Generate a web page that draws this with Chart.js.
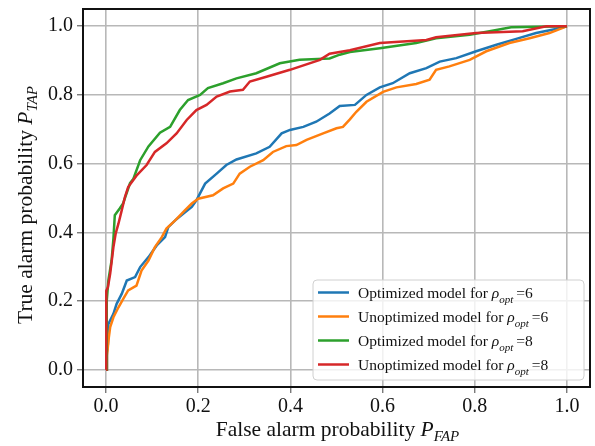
<!DOCTYPE html>
<html>
<head>
<meta charset="utf-8">
<script src="https://cdn.jsdelivr.net/npm/chart.js@4.4.1/dist/chart.umd.min.js"></script>
<style>
  body { margin: 0; background: #fff; }
  #rocChart { display: block; }
</style>
</head>
<body>
<canvas id="rocChart" width="595" height="446"></canvas>
<script>
// ROC curves (false alarm prob. vs true alarm prob.)
const optFap6 = [0, 0.002, 0.004, 0.005, 0.016, 0.023, 0.034, 0.045, 0.063, 0.074, 0.092, 0.110, 0.128, 0.135, 0.150, 0.168, 0.186, 0.196, 0.215, 0.240, 0.261, 0.283, 0.326, 0.355, 0.381, 0.399, 0.428, 0.456, 0.485, 0.507, 0.540, 0.565, 0.594, 0.622, 0.659, 0.695, 0.724, 0.760, 0.803, 0.847, 0.890, 0.933, 0.976, 1.0];
const optTap6 = [0, 0.050, 0.075, 0.133, 0.163, 0.192, 0.221, 0.260, 0.270, 0.299, 0.328, 0.362, 0.386, 0.415, 0.435, 0.455, 0.474, 0.493, 0.542, 0.571, 0.596, 0.612, 0.630, 0.649, 0.688, 0.698, 0.707, 0.722, 0.746, 0.768, 0.771, 0.800, 0.822, 0.834, 0.863, 0.878, 0.897, 0.907, 0.927, 0.946, 0.963, 0.980, 0.992, 1.0];

const unoptFap6 = [0, 0.002, 0.006, 0.009, 0.016, 0.027, 0.037, 0.048, 0.066, 0.077, 0.092, 0.106, 0.121, 0.131, 0.150, 0.171, 0.186, 0.200, 0.232, 0.254, 0.276, 0.290, 0.312, 0.341, 0.362, 0.391, 0.413, 0.435, 0.471, 0.500, 0.514, 0.529, 0.543, 0.565, 0.601, 0.630, 0.673, 0.702, 0.716, 0.745, 0.789, 0.825, 0.875, 0.919, 0.962, 0.991, 1.0];
const unoptTap6 = [0, 0.041, 0.094, 0.124, 0.153, 0.182, 0.206, 0.231, 0.245, 0.289, 0.318, 0.357, 0.386, 0.411, 0.435, 0.464, 0.484, 0.498, 0.508, 0.528, 0.542, 0.571, 0.591, 0.610, 0.634, 0.651, 0.654, 0.669, 0.688, 0.703, 0.707, 0.729, 0.751, 0.780, 0.809, 0.822, 0.832, 0.844, 0.873, 0.883, 0.902, 0.927, 0.951, 0.965, 0.980, 0.995, 1.0];

const optFap8 = [0, 0.001, 0.002, 0.005, 0.012, 0.016, 0.019, 0.030, 0.037, 0.052, 0.059, 0.074, 0.092, 0.117, 0.139, 0.160, 0.178, 0.204, 0.221, 0.254, 0.283, 0.326, 0.377, 0.420, 0.485, 0.507, 0.529, 0.594, 0.673, 0.716, 0.789, 0.832, 0.879, 1.0];
const optTap8 = [0, 0.163, 0.200, 0.260, 0.318, 0.382, 0.450, 0.470, 0.484, 0.543, 0.555, 0.610, 0.650, 0.690, 0.707, 0.756, 0.785, 0.800, 0.820, 0.834, 0.848, 0.863, 0.892, 0.902, 0.906, 0.917, 0.925, 0.936, 0.951, 0.965, 0.975, 0.985, 0.997, 1.0];

const unoptFap8 = [0, 0.0, 0.001, 0.004, 0.009, 0.016, 0.021, 0.027, 0.034, 0.041, 0.048, 0.066, 0.088, 0.106, 0.131, 0.153, 0.175, 0.196, 0.218, 0.240, 0.269, 0.297, 0.312, 0.348, 0.399, 0.464, 0.485, 0.529, 0.594, 0.695, 0.716, 0.803, 0.904, 0.955, 1.0];
const unoptTap8 = [0, 0.163, 0.230, 0.240, 0.280, 0.357, 0.397, 0.426, 0.464, 0.503, 0.532, 0.565, 0.596, 0.634, 0.659, 0.688, 0.727, 0.756, 0.771, 0.795, 0.810, 0.815, 0.839, 0.853, 0.873, 0.902, 0.920, 0.930, 0.951, 0.960, 0.968, 0.980, 0.985, 1.0, 1.0];

const tickValues = [0, 0.2, 0.4, 0.6, 0.8, 1.0];
const tickLabels = ['0.0', '0.2', '0.4', '0.6', '0.8', '1.0'];

const legendNames = ['Optimized model for', 'Unoptimized model for', 'Optimized model for', 'Unoptimized model for'];
const legendRho = ['6', '6', '8', '8'];
const colors = ['#1f77b4', '#ff7f0e', '#2ca02c', '#d62728'];

const SERIF = '"Liberation Serif", "DejaVu Serif", serif';

function toPoints(xs, ys) {
    return xs.map((x, i) => ({ x: x, y: ys[i] }));
}

// text pieces, some italic / subscript
function richWidth(ctx, parts) {
    let w = 0;
    parts.forEach(p => {
        ctx.font = (p.italic ? 'italic ' : '') + p.size + 'px ' + SERIF;
        w += ctx.measureText(p.text).width + (p.gap || 0);
    });
    return w;
}

function drawRich(ctx, parts, x, y) {
    parts.forEach(p => {
        ctx.font = (p.italic ? 'italic ' : '') + p.size + 'px ' + SERIF;
        x += (p.gap || 0);
        ctx.fillText(p.text, x, y + (p.dy || 0));
        x += ctx.measureText(p.text).width;
    });
}

const decorPlugin = {
    id: 'decor',
    afterDatasetsDraw(chart) {
        const ctx = chart.ctx;
        const a = chart.chartArea;
        ctx.save();
        // frame
        ctx.strokeStyle = '#111';
        ctx.lineWidth = 2;
        ctx.strokeRect(a.left, a.top, a.right - a.left, a.bottom - a.top);

        ctx.fillStyle = '#111';
        ctx.textBaseline = 'alphabetic';
        ctx.textAlign = 'left';

        // x title
        const xParts = [
            { text: 'False alarm probability ', size: 21.5 },
            { text: 'P', size: 21.5, italic: true },
            { text: 'FAP', size: 15, italic: true, dy: 5 }
        ];
        const xw = richWidth(ctx, xParts);
        drawRich(ctx, xParts, (a.left + a.right) / 2 - xw / 2 + 1, 436);

        // y title
        const yParts = [
            { text: 'True alarm probability ', size: 21.5 },
            { text: 'P', size: 21.5, italic: true },
            { text: 'TAP', size: 15, italic: true, dy: 5 }
        ];
        const yw = richWidth(ctx, yParts);
        ctx.save();
        ctx.translate(31.5, 205);
        ctx.rotate(-Math.PI / 2);
        drawRich(ctx, yParts, -yw / 2, 0);
        ctx.restore();

        // legend
        const bx = 313, by = 280, bw = 271, bh = 100;
        ctx.beginPath();
        ctx.roundRect(bx, by, bw, bh, 4);
        ctx.fillStyle = 'rgba(255,255,255,0.8)';
        ctx.fill();
        ctx.strokeStyle = '#d0d0d0';
        ctx.lineWidth = 1;
        ctx.stroke();

        legendNames.forEach((name, i) => {
            const ry = 292.5 + i * 24;
            ctx.strokeStyle = colors[i];
            ctx.lineWidth = 2.5;
            ctx.beginPath();
            ctx.moveTo(318, ry);
            ctx.lineTo(349, ry);
            ctx.stroke();
            ctx.fillStyle = '#111';
            drawRich(ctx, [
                { text: name + ' ', size: 15.5 },
                { text: 'ρ', size: 15.5, italic: true },
                { text: 'opt', size: 11, italic: true, dy: 5 },
                { text: '=' + legendRho[i], size: 15.5, gap: 3 }
            ], 358, ry + 5.5);
        });
        ctx.restore();
    }
};

const seriesX = [optFap6, unoptFap6, optFap8, unoptFap8];
const seriesY = [optTap6, unoptTap6, optTap8, unoptTap8];

const datasets = seriesX.map((xs, i) => ({
    label: legendNames[i] + ' rho_opt=' + legendRho[i],
    data: toPoints(xs, seriesY[i]),
    borderColor: colors[i],
    backgroundColor: colors[i],
    borderWidth: 2.5,
    pointRadius: 0,
    showLine: true,
    tension: 0,
    order: 3 - i
}));

function axisOptions(isX) {
    return {
        type: 'linear',
        min: -0.05,
        max: 1.05,
        afterBuildTicks(scale) {
            scale.ticks = tickValues.map(v => ({ value: v }));
        },
        afterFit(scale) {
            // fixed plot box: left 83, right 590, top 9, bottom 387
            if (isX) scale.height = 59;
            else scale.width = 83;
            scale.paddingTop = 0;
            scale.paddingBottom = 0;
            scale.paddingLeft = 0;
            scale.paddingRight = 0;
        },
        ticks: {
            callback: (v) => tickLabels[tickValues.indexOf(v)] ?? v.toFixed(1),
            font: { family: SERIF, size: 20 },
            color: '#111',
            padding: isX ? 2 : 4,
            maxRotation: 0
        },
        grid: {
            color: '#b8b8b8',
            lineWidth: 1.6,
            drawTicks: true,
            tickLength: 6,
            tickColor: '#444',
            tickWidth: 1
        },
        border: { display: false }
    };
}

new Chart(document.getElementById('rocChart').getContext('2d'), {
    type: 'scatter',
    data: { datasets: datasets },
    options: {
        responsive: false,
        animation: false,
        devicePixelRatio: 1,
        layout: { padding: { top: 9, right: 5, left: 0, bottom: 0 } },
        plugins: {
            legend: { display: false },
            tooltip: { enabled: false }
        },
        scales: {
            x: axisOptions(true),
            y: axisOptions(false)
        }
    },
    plugins: [decorPlugin]
});
</script>
</body>
</html>
